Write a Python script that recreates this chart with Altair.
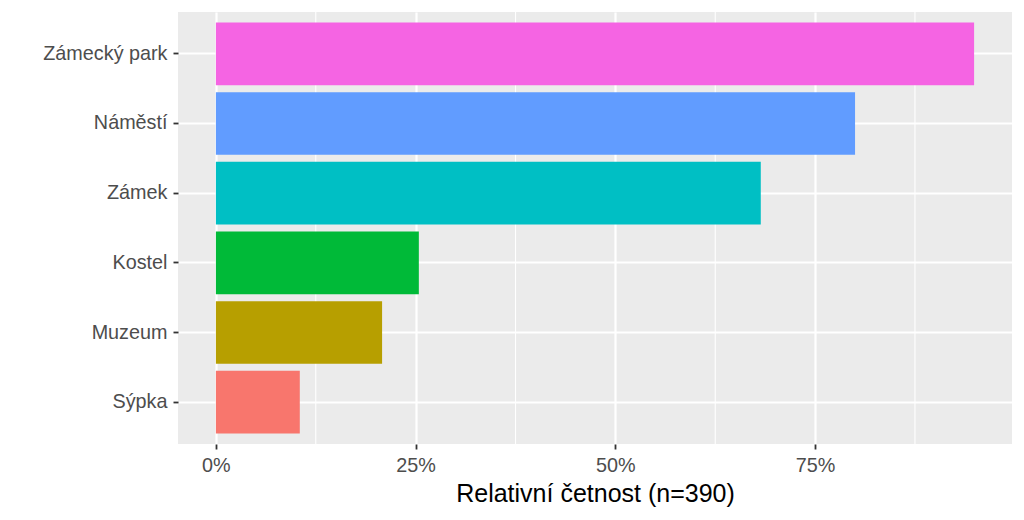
import altair as alt
import pandas as pd

categories = ["Zámecký park", "Náměstí", "Zámek", "Kostel", "Muzeum", "Sýpka"]
shares = [0.949, 0.800, 0.682, 0.254, 0.208, 0.105]
colors = ["#F564E3", "#619CFF", "#00BFC4", "#00BA38", "#B79F00", "#F8766D"]
major_ticks = [0, 0.25, 0.5, 0.75]
minor_ticks = [0.125, 0.375, 0.625, 0.875]
x_title = "Relativní četnost (n=390)"

df = pd.DataFrame({"misto": categories, "podil": shares})
minor_df = pd.DataFrame({"v": minor_ticks})

vmax = max(shares)
xscale = alt.Scale(domain=[-0.05 * vmax, 1.05 * vmax], nice=False, zero=False)
yscale = alt.Scale(domain=categories, paddingInner=0.1, paddingOuter=0.15)

FONT = "Liberation Sans"

xaxis = alt.Axis(
    values=major_ticks,
    format=".0%",
    grid=True,
    gridColor="white",
    gridWidth=2.2,
    domain=False,
    tickColor="#333333",
    tickSize=5,
    tickWidth=1.8,
    labelFont=FONT,
    labelFontSize=19.8,
    labelColor="#4D4D4D",
    labelPadding=6,
    title=x_title,
    titleFont=FONT,
    titleFontSize=25,
    titleFontWeight="normal",
    titleColor="black",
    titlePadding=7,
)

minor = alt.Chart(minor_df).mark_rule(color="white", strokeWidth=1.1).encode(
    x=alt.X("v:Q", scale=xscale, axis=xaxis, title=x_title)
)

bars = alt.Chart(df).mark_bar().encode(
    x=alt.X("podil:Q", scale=xscale, axis=xaxis, title=x_title),
    x2=alt.datum(0),
    y=alt.Y(
        "misto:N",
        scale=yscale,
        sort=categories,
        axis=alt.Axis(
            grid=True,
            bandPosition=0.5,
            gridColor="white",
            gridWidth=2.2,
            domain=False,
            tickColor="#333333",
            tickSize=5,
            tickWidth=1.8,
            labelFont=FONT,
            labelFontSize=19.8,
            labelColor="#4D4D4D",
            labelPadding=6,
            title=None,
        ),
    ),
    color=alt.Color("misto:N", scale=alt.Scale(domain=categories, range=colors), legend=None),
)

chart = (
    alt.layer(minor, bars)
    .properties(
        width=834,
        height=432,
        autosize=alt.AutoSizeParams(type="none"),
        padding={"left": 178, "top": 12, "right": 12, "bottom": 76},
        background="white",
    )
    .configure_view(fill="#EBEBEB", strokeWidth=0)
)

chart.save("out.html", embed_options={"renderer": "svg", "actions": False})
